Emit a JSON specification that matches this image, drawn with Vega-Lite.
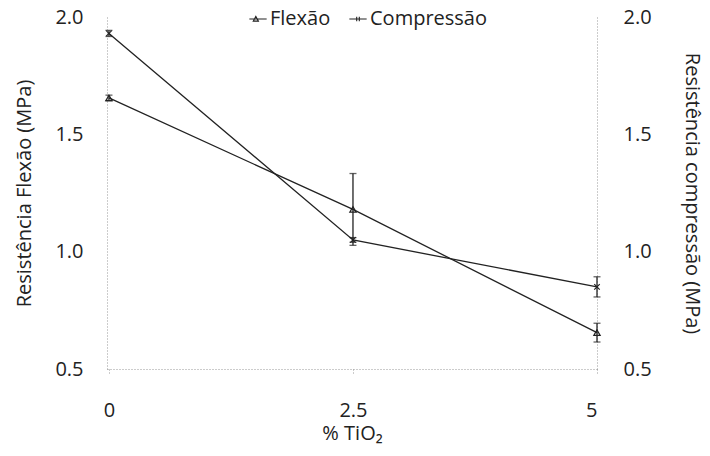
{
  "$schema": "https://vega.github.io/schema/vega-lite/v6.json",
  "width": 490,
  "height": 352,
  "autosize": {"type": "none"},
  "padding": {"left": 107, "top": 17, "right": 113, "bottom": 87},
  "background": "white",
  "config": {
    "font": "Open Sans",
    "view": {"stroke": null},
    "axis": {
      "labelFont": "Open Sans",
      "titleFont": "Open Sans",
      "labelFontSize": 20,
      "titleFontSize": 20,
      "titleFontWeight": "normal",
      "labelColor": "#222",
      "titleColor": "#222",
      "grid": false,
      "domainColor": "#999",
      "domainDash": [1, 2],
      "domainWidth": 1,
      "tickColor": "#999",
      "tickDash": [1, 2]
    }
  },
  "data": {
    "values": [
      {"x": 0, "serie": "Flexão", "v": 1.655, "err": 0.012},
      {"x": 2.5, "serie": "Flexão", "v": 1.18, "err": 0.153},
      {"x": 5, "serie": "Flexão", "v": 0.655, "err": 0.04},
      {"x": 0, "serie": "Compressão", "v": 1.93, "err": 0.013},
      {"x": 2.5, "serie": "Compressão", "v": 1.05, "err": 0.01},
      {"x": 5, "serie": "Compressão", "v": 0.85, "err": 0.043}
    ]
  },
  "resolve": {"axis": {"y": "independent"}},
  "layer": [
    {
      "mark": {"type": "line", "color": "#222", "strokeWidth": 1.3},
      "encoding": {
        "x": {
          "field": "x", "type": "quantitative",
          "scale": {"domain": [-0.02, 5.0], "nice": false, "zero": false},
          "axis": {
            "orient": "bottom", "title": "% TiO₂", "values": [0, 2.5, 5],
            "labelExpr": "datum.value + ''", "tickSize": 5,
            "labelPadding": 26, "titlePadding": 3
          }
        },
        "y": {
          "field": "v", "type": "quantitative",
          "scale": {"domain": [0.5, 2.0], "nice": false, "zero": false},
          "axis": {
            "orient": "left", "title": "Resistência Flexão (MPa)",
            "values": [0.5, 1, 1.5, 2], "format": ".1f", "ticks": false,
            "labelPadding": 24, "titlePadding": 20
          }
        },
        "detail": {"field": "serie", "type": "nominal"}
      }
    },
    {
      "mark": {"type": "errorbar", "color": "#222", "thickness": 1.3, "ticks": {"size": 7, "thickness": 1.3}},
      "encoding": {
        "x": {"field": "x", "type": "quantitative"},
        "y": {"field": "v", "type": "quantitative", "axis": null},
        "yError": {"field": "err"}
      }
    },
    {
      "transform": [{"filter": "datum.serie == 'Flexão'"}],
      "mark": {"type": "point", "shape": "triangle-up", "filled": false, "size": 40, "color": "#222", "strokeWidth": 1.2, "opacity": 1},
      "encoding": {
        "x": {"field": "x", "type": "quantitative"},
        "y": {"field": "v", "type": "quantitative", "axis": null}
      }
    },
    {
      "transform": [{"filter": "datum.serie == 'Compressão'"}],
      "mark": {"type": "point", "shape": "M-1,-1L1,1M-1,1L1,-1", "filled": false, "size": 30, "color": "#222", "strokeWidth": 1.2, "opacity": 1},
      "encoding": {
        "x": {"field": "x", "type": "quantitative"},
        "y": {"field": "v", "type": "quantitative", "axis": null}
      }
    },
    {
      "mark": {"type": "point", "filled": false, "size": 320, "color": "#222", "strokeWidth": 1.3, "opacity": 0},
      "encoding": {
        "x": {"field": "x", "type": "quantitative"},
        "y": {
          "field": "v", "type": "quantitative",
          "axis": {
            "orient": "right", "title": "Resistência compressão (MPa)",
            "values": [0.5, 1, 1.5, 2], "format": ".1f", "ticks": false,
            "labelPadding": 26, "titlePadding": 30
          }
        },
        "shape": {
          "field": "serie", "type": "nominal",
          "scale": {
            "domain": ["Flexão", "Compressão"],
            "range": ["M-1,0H1M-0.55,0.25L-0.25,-0.3L0.05,0.25Z", "M-1,0H1M-0.15,-0.25V0.25M0.15,-0.25V0.25"]
          },
          "legend": {
            "orient": "none", "legendX": 141, "legendY": -8,
            "direction": "horizontal", "title": null,
            "labelFont": "Open Sans", "labelFontSize": 20, "labelColor": "#222",
            "symbolSize": 300, "symbolStrokeWidth": 1.1, "columnPadding": 16, "labelOffset": 2,
            "symbolStrokeColor": "#222"
          }
        }
      }
    }
  ]
}
